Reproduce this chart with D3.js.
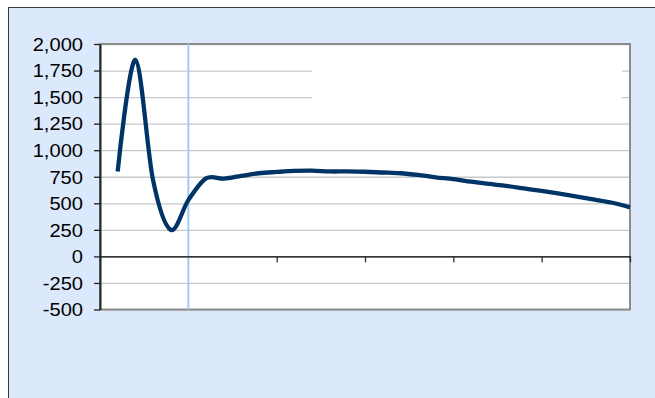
<!DOCTYPE html>
<html>
<head>
<meta charset="utf-8">
<script src="https://cdn.jsdelivr.net/npm/d3@7"></script>
<style>
  html, body { margin: 0; padding: 0; background: #ffffff; }
  svg { display: block; }
  text { font-family: "Liberation Sans", Arial, sans-serif; }
</style>
</head>
<body>
<svg id="chart" width="655" height="398"></svg>
<script>
// ---- data ----
const categories = d3.range(0, 31);          // category positions 0..30
const values = [null, 800, 1850, 720, 250, 530, 735, 732, 758, 783, 795,
                805, 808, 800, 800, 797, 790, 783, 767, 745, 727,
                703, 682, 664, 640, 616, 590, 562, 534, 505, 462];
const yTicks = [-500, -250, 0, 250, 500, 750, 1000, 1250, 1500, 1750, 2000];
const xTicks = [0, 5, 10, 15, 20, 25, 30];
const markerCategory = 5;

// ---- layout ----
const svg = d3.select("#chart");
const pLeft = 100, pRight = 630, pTop = 44, pBottom = 309.5;

// outer chart area
svg.append("rect")
  .attr("x", 8.5).attr("y", 7.5).attr("width", 700).attr("height", 500)
  .attr("fill", "#dce9fc").attr("stroke", "#3a3a3a").attr("stroke-width", 1);

const x = d3.scaleLinear().domain([0, 30]).range([pLeft, pRight]);
const y = d3.scaleLinear().domain([-500, 2000]).range([pBottom, pTop]);

// plot area
svg.append("rect")
  .attr("x", pLeft).attr("y", pTop).attr("width", pRight - pLeft).attr("height", pBottom - pTop)
  .attr("fill", "#ffffff");

// gridlines
const grid = svg.append("g").attr("transform", `translate(${pLeft},0)`)
  .call(d3.axisLeft(y).tickValues(yTicks).tickSize(-(pRight - pLeft)).tickFormat(""));
grid.select(".domain").remove();
grid.selectAll("line").attr("stroke", "#c8c8c8").attr("stroke-width", 1.3);

// white box covering part of gridlines (as in reference)
svg.append("rect")
  .attr("x", 312).attr("y", pTop + 2).attr("width", 310).attr("height", 72)
  .attr("fill", "#ffffff");

// plot border (gray)
svg.append("rect")
  .attr("x", pLeft).attr("y", pTop).attr("width", pRight - pLeft).attr("height", pBottom - pTop)
  .attr("fill", "none").attr("stroke", "#8c8c8c").attr("stroke-width", 2);

// marker vertical line
svg.append("line")
  .attr("x1", x(markerCategory)).attr("x2", x(markerCategory))
  .attr("y1", pTop).attr("y2", pBottom)
  .attr("stroke", "#9fcbfb").attr("stroke-width", 2);

// x axis at zero
const xAxis = svg.append("g").attr("transform", `translate(0,${y(0)})`)
  .call(d3.axisBottom(x).tickValues(xTicks).tickSize(6).tickSizeOuter(0).tickFormat(""));
xAxis.select(".domain").attr("stroke", "#000").attr("stroke-width", 1.3);
xAxis.selectAll(".tick line").attr("stroke", "#333").attr("stroke-width", 1.3);
xAxis.selectAll(".tick").filter(d => d === markerCategory).remove();

// y axis
const fmt = d3.format(",");
const yAxis = svg.append("g").attr("transform", `translate(${pLeft},0)`)
  .call(d3.axisLeft(y).tickValues(yTicks).tickSize(6).tickSizeOuter(0)
    .tickFormat(d => fmt(d).replace("\u2212", "-")));
yAxis.select(".domain").attr("stroke", "#222").attr("stroke-width", 2);
yAxis.selectAll(".tick line").attr("stroke", "#222").attr("stroke-width", 1.3);
yAxis.selectAll(".tick text")
  .attr("x", 0).attr("dy", "0.36em")
  .attr("transform", "translate(-17,0) scale(1.15,1)")
  .attr("font-size", 17.5).attr("fill", "#000").attr("text-anchor", "end");

// series line
const line = d3.line()
  .defined(d => d[1] != null)
  .x(d => x(d[0])).y(d => y(d[1]))
  .curve(d3.curveCardinal.tension(0));
svg.append("path")
  .datum(categories.map((c, i) => [c, values[i]]))
  .attr("d", line)
  .attr("fill", "none").attr("stroke", "#003366").attr("stroke-width", 4.3)
  .attr("stroke-linejoin", "round").attr("stroke-linecap", "butt");
</script>
</body>
</html>
